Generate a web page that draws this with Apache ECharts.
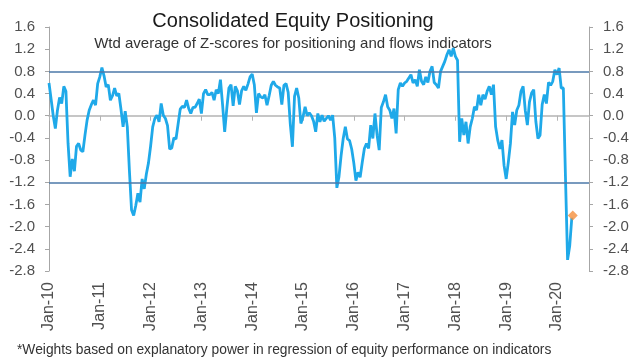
<!DOCTYPE html>
<html><head><meta charset="utf-8">
<script src="https://cdn.jsdelivr.net/npm/echarts@6/dist/echarts.min.js"></script>
<style>html,body{margin:0;padding:0;background:#fff}#c{width:640px;height:360px}</style>
</head><body><div id="c"></div>
<script>
// Semi-monthly observations starting Jan 2010
const startYear = 2010;
const pointsPerYear = 24;
const values = [
 0.59, 0.30, 0.00,-0.23, 0.10, 0.33, 0.22, 0.53, 0.44,-0.50,
-1.10,-0.78,-1.00,-0.55,-0.50,-0.62,-0.65,-0.35,-0.08, 0.10,
 0.20, 0.28, 0.19, 0.58, 0.70, 0.87, 0.72, 0.52, 0.56, 0.28,
 0.36, 0.50, 0.36, 0.40, 0.12,-0.20, 0.08,-0.20,-1.00,-1.70,
-1.80,-1.62,-1.40,-1.56,-1.14,-1.32,-1.05,-0.85,-0.55,-0.20,
-0.05, 0.01,-0.11, 0.22, 0.01,-0.05,-0.18,-0.60,-0.58,-0.40,
-0.42,-0.15, 0.12, 0.17, 0.15, 0.28, 0.13, 0.04, 0.15, 0.15,
 0.22, 0.30, 0.04, 0.40, 0.47, 0.38, 0.38, 0.42, 0.28, 0.47,
 0.40, 0.65, 0.20,-0.29, 0.13, 0.50, 0.56, 0.18, 0.53, 0.45,
 0.20, 0.45, 0.53, 0.46, 0.57, 0.70, 0.75, 0.56, 0.05, 0.40,
 0.34, 0.32, 0.38, 0.19, 0.36, 0.55, 0.62, 0.55, 0.52, 0.50,
 0.20, 0.55, 0.58, 0.42,-0.15,-0.56, 0.35, 0.50, 0.32,-0.14,
-0.02, 0.16, 0.00, 0.05, 0.00,-0.10,-0.29, 0.04,-0.11, 0.01,
-0.10,-0.05, 0.00,-0.08, 0.01,-0.40,-1.30,-1.10,-0.72,-0.41,
-0.20,-0.42,-0.45,-0.60,-0.85,-1.17,-1.02,-1.11,-0.84,-0.59,
-0.50,-0.59,-0.17,-0.41, 0.04,-0.35,-0.62, 0.15, 0.25, 0.38,
 0.16, 0.10,-0.05, 0.13,-0.32, 0.47, 0.59, 0.53, 0.59, 0.62,
 0.68, 0.74, 0.59, 0.65, 0.53, 0.83, 0.62, 0.56, 0.70, 0.60,
 0.80, 0.89, 0.60, 0.56, 0.50, 0.80, 0.89, 0.98, 1.10, 1.19,
 1.07, 1.22, 1.07, 1.00,-0.47,-0.05,-0.35,-0.11,-0.50,-0.20,
-0.05, 0.16, 0.10, 0.38, 0.19, 0.38, 0.30, 0.44, 0.53, 0.38,
 0.56,-0.20,-0.44,-0.60,-0.44,-0.90,-1.14,-0.84,-0.50, 0.07,
-0.17, 0.10, 0.19, 0.44, 0.53, 0.10,-0.17, 0.25, 0.41, 0.47,
-0.10,-0.41,-0.35, 0.20, 0.38, 0.22, 0.60, 0.55, 0.62, 0.83,
 0.74, 0.86, 0.50, 0.50,-1.10,-2.60,-2.35,-1.84
];
const xTickLabels = ['Jan-10','Jan-11','Jan-12','Jan-13','Jan-14','Jan-15','Jan-16','Jan-17','Jan-18','Jan-19','Jan-20'];
const xMin = 2010, xMax = 2020.63;
const yMin = -2.8, yMax = 1.6, yStep = 0.4;
const thresholdHigh = 0.8, thresholdLow = -1.2;
const latestPoint = [2020.31, -1.80];

const titleText = 'Consolidated Equity Positioning';
const subtitleText = 'Wtd average of Z-scores for positioning and flows indicators';
const footnoteText = '*Weights based on explanatory power in regression of equity performance on indicators';

const lineData = values.map((v, i) => [startYear + i / pointsPerYear, v]);
const FONT = 'Liberation Sans, Arial, sans-serif';
const axisGray = '#a6a6a6';
const labelGray = '#505050';

const yFmt = v => { const r = Math.round(v * 10) / 10; return (Math.abs(r) < 1e-9 ? 0 : r).toFixed(1); };

const yAxisBase = {
  type: 'value', min: yMin, max: yMax, interval: yStep,
  splitLine: { show: false },
  axisLine: { show: true, lineStyle: { color: axisGray, width: 1 } },
  axisTick: { show: true, length: 4, lineStyle: { color: axisGray } },
  axisLabel: { fontFamily: FONT, fontSize: 15, color: labelGray, formatter: yFmt, margin: 14 }
};

const chart = echarts.init(document.getElementById('c'), null, { renderer: 'canvas' });
chart.setOption({
  animation: false,
  backgroundColor: '#ffffff',
  grid: { left: 49, right: 51, top: 27, bottom: 89, containLabel: false, outerBoundsMode: 'none' },
  xAxis: [
    {
      type: 'value', min: xMin, max: xMax, interval: 1, position: 'bottom',
      axisLine: { show: false, onZero: false }, axisTick: { show: false }, splitLine: { show: false },
      axisLabel: {
        rotate: 90, margin: 11, fontFamily: FONT, fontSize: 16, color: labelGray,
        showMaxLabel: false,
        formatter: v => { const k = Math.round(v - xMin); return xTickLabels[k] || ''; }
      }
    },
    {
      type: 'value', min: xMin, max: xMax, interval: 1, position: 'top',
      axisLine: { show: true, onZero: true, lineStyle: { color: '#b4b4b4', width: 1.5 } },
      axisTick: { show: true, inside: true, length: 5, lineStyle: { color: '#b4b4b4' } },
      axisLabel: { show: false }, splitLine: { show: false }
    }
  ],
  yAxis: [
    Object.assign({}, yAxisBase, { position: 'left' }),
    Object.assign({}, yAxisBase, { position: 'right' })
  ],
  series: [
    {
      type: 'line', data: lineData, xAxisIndex: 0, yAxisIndex: 0,
      showSymbol: false, symbol: 'none',
      lineStyle: { color: '#1fa9e9', width: 2.8 },
      z: 3,
      markLine: {
        silent: true, symbol: ['none', 'none'], label: { show: false },
        lineStyle: { color: '#4b79a8', width: 1.5, type: 'solid' },
        data: [{ yAxis: thresholdHigh }, { yAxis: thresholdLow }]
      }
    },
    {
      type: 'scatter', data: [latestPoint], xAxisIndex: 0, yAxisIndex: 0,
      symbol: 'diamond', symbolSize: 10,
      itemStyle: { color: '#f5903d' }, z: 4
    }
  ],
  graphic: [
    { type: 'text', x: 293, y: 21, style: { text: titleText, font: '20px ' + FONT, fill: '#1a1a1a', textAlign: 'center', textVerticalAlign: 'middle' } },
    { type: 'text', x: 293, y: 44, style: { text: subtitleText, font: '15px ' + FONT, fill: '#333333', textAlign: 'center', textVerticalAlign: 'middle' } },
    { type: 'text', x: 17, y: 350, style: { text: footnoteText, font: '13.8px ' + FONT, fill: '#333333', textAlign: 'left', textVerticalAlign: 'middle' } }
  ]
});
</script>
</body></html>
